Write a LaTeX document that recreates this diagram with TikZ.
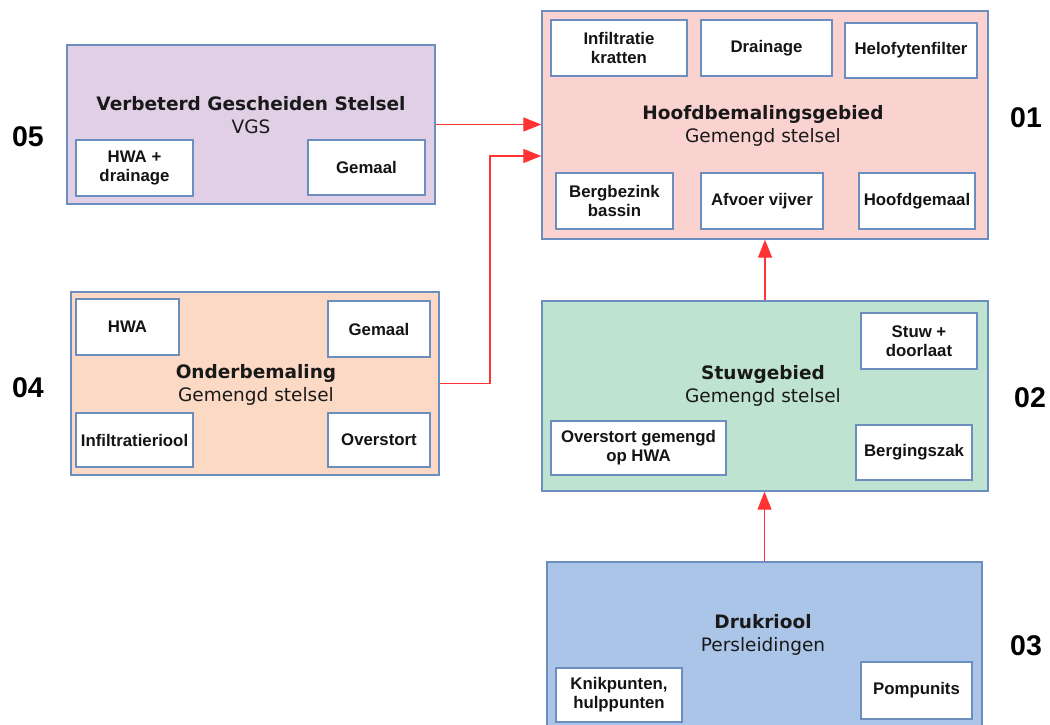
\documentclass[tikz,border=0pt]{standalone}
\usepackage{fontspec}
\setmainfont{Liberation Sans}
\newfontfamily\dejavu{DejaVu Sans}
\usetikzlibrary{arrows.meta}
\definecolor{bord}{HTML}{6C8EBF}
\definecolor{arrowred}{HTML}{FF3333}
\definecolor{fillpink}{HTML}{FAD3D1}
\definecolor{fillpurple}{HTML}{E1CFE6}
\definecolor{fillpeach}{HTML}{FBD9C4}
\definecolor{fillgreen}{HTML}{BFE3D1}
\definecolor{fillblue}{HTML}{ABC5E8}
\begin{document}
\begin{tikzpicture}[x=1pt,y=-1pt,
  area/.style={draw=bord, line width=1.3pt, inner sep=0pt},
  item/.style={draw=bord, line width=1.3pt, fill=white, inner sep=0.5pt, align=center,
    font=\fontsize{16.8}{19}\selectfont\bfseries, text=black!92},
  ttl/.style={align=center, font=\dejavu\fontsize{18.5}{23}\selectfont, text=black!90},
  num/.style={font=\fontsize{28.5}{30}\selectfont\bfseries, text=black},
  flow/.style={draw=arrowred, line width=1.2pt, -{Triangle[length=18pt,width=14pt]}}]
\useasboundingbox (0,0) rectangle (1050,724);
\clip (0,0) rectangle (1050,724);

% 01
\node[area, fill=fillpink, minimum width=446pt, minimum height=228pt] (b01) at (765,125) {};
\node[ttl] (t01) at (763,125.5) {\textbf{Hoofdbemalingsgebied}\\Gemengd stelsel};
\node[item, minimum width=136pt, minimum height=56pt] (i01a) at (619,48) {Infiltratie\\kratten};
\node[item, minimum width=131pt, minimum height=56pt] (i01b) at (766.5,48) {Drainage};
\node[item, minimum width=132pt, minimum height=55pt] (i01c) at (911,50.5) {Helofytenfilter};
\node[item, minimum width=117pt, minimum height=56pt] (i01d) at (614.5,201) {Bergbezink\\bassin};
\node[item, minimum width=122pt, minimum height=56pt] (i01e) at (762,201) {Afvoer vijver};
\node[item, minimum width=116pt, minimum height=56pt] (i01f) at (917,201) {Hoofdgemaal};
\node[num] (n01) at (1026,118) {01};

% 05
\node[area, fill=fillpurple, minimum width=368pt, minimum height=159pt] (b05) at (251,124.5) {};
\node[ttl] (t05) at (251,115) {\textbf{Verbeterd Gescheiden Stelsel}\\VGS};
\node[item, minimum width=117pt, minimum height=56pt] (i05a) at (134.5,168) {HWA +\\drainage};
\node[item, minimum width=117pt, minimum height=55pt] (i05b) at (366.5,167.5) {Gemaal};
\node[num] (n05) at (28,137) {05};

% 04
\node[area, fill=fillpeach, minimum width=368pt, minimum height=183pt] (b04) at (255,383.5) {};
\node[ttl] (t04) at (256,384.5) {\textbf{Onderbemaling}\\Gemengd stelsel};
\node[item, minimum width=103pt, minimum height=56pt] (i04a) at (127.5,327) {HWA};
\node[item, minimum width=102pt, minimum height=56pt] (i04b) at (379,329) {Gemaal};
\node[item, minimum width=117pt, minimum height=54pt] (i04c) at (134.5,440) {Infiltratieriool};
\node[item, minimum width=102pt, minimum height=54pt] (i04d) at (379,440) {Overstort};
\node[num] (n04) at (28,388) {04};

% 02
\node[area, fill=fillgreen, minimum width=446pt, minimum height=190pt] (b02) at (765,396) {};
\node[ttl] (t02) at (763,385.5) {\textbf{Stuwgebied}\\Gemengd stelsel};
\node[item, minimum width=116pt, minimum height=56pt] (i02a) at (919,341) {Stuw +\\doorlaat};
\node[item, minimum width=175pt, minimum height=54pt] (i02b) at (638.5,448) {Overstort gemengd\\op HWA};
\node[item, minimum width=116pt, minimum height=55pt] (i02c) at (914,452.5) {Bergingszak};
\node[num] (n02) at (1030,398) {02};

% 03
\node[area, fill=fillblue, minimum width=435pt, minimum height=228pt] (b03) at (764.5,676) {};
\node[ttl] (t03) at (763,634.5) {\textbf{Drukriool}\\Persleidingen};
\node[item, minimum width=126pt, minimum height=54pt] (i03a) at (619,695) {Knikpunten,\\hulppunten};
\node[item, minimum width=111pt, minimum height=57pt] (i03b) at (916.5,690.5) {Pompunits};
\node[num] (n03) at (1026,646) {03};

% connectors
\coordinate (j04) at (490,156);
\draw[flow] (b05.east) -- (b05.east -| b01.west);
\draw[flow] (b04.east) -| (j04) -- (j04 -| b01.west);
\draw[flow] (b02.north) -- (b01.south);
\draw[flow] (b03.north) -- (b03.north |- b02.south);
\end{tikzpicture}
\end{document}
